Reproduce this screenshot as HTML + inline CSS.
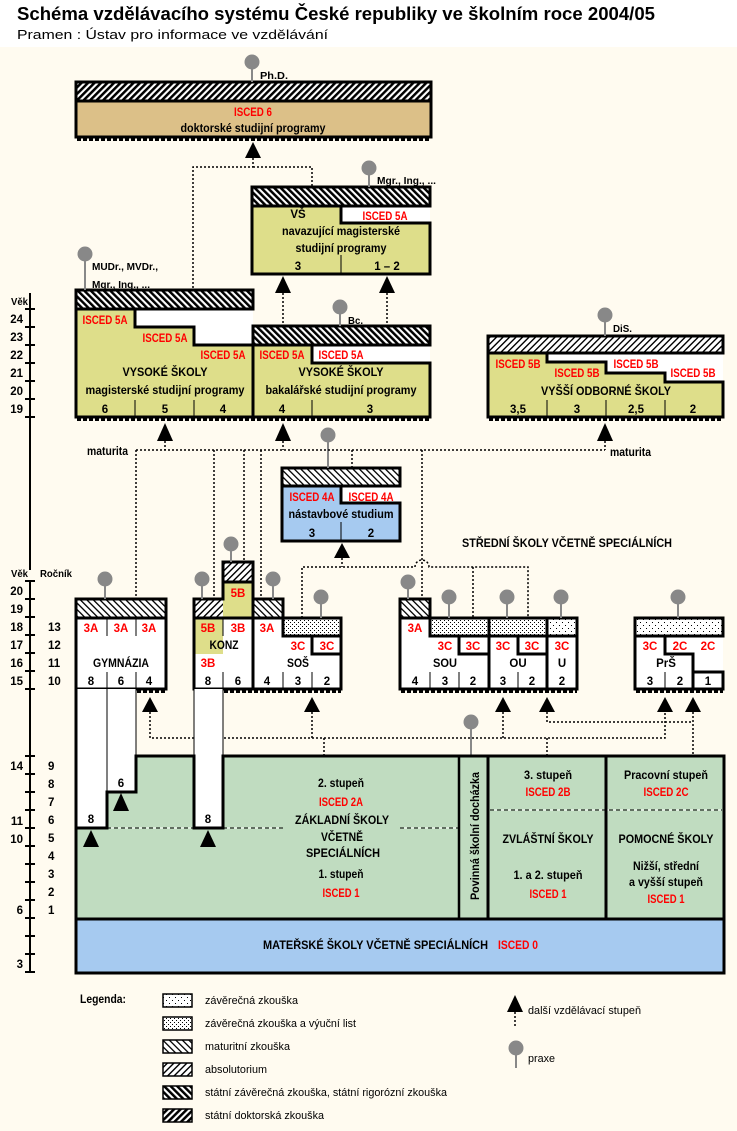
<!DOCTYPE html>
<html><head><meta charset="utf-8">
<style>
html,body{margin:0;padding:0;background:#fff;}
svg{display:block;}
.t{font-family:"Liberation Sans",Arial,sans-serif;font-weight:bold;font-size:11.5px;fill:#000;}
.s{font-family:"Liberation Sans",Arial,sans-serif;font-weight:bold;font-size:10.5px;fill:#000;}
.n{font-family:"Liberation Sans",Arial,sans-serif;font-weight:normal;font-size:11px;fill:#000;}
.m{text-anchor:middle;}
.e{text-anchor:end;}
.r{fill:#f00;}
.k{stroke:#000;stroke-width:3;fill:none;stroke-linecap:square;}
.th{stroke:#000;stroke-width:1;fill:none;}
.d{stroke:#000;stroke-width:1.5;fill:none;stroke-dasharray:2 2;}
.pin{fill:#888;}
.st{stroke:#888;stroke-width:2;}
.ru{stroke:#000;stroke-width:3;stroke-dasharray:4 2;fill:none;}
.wd{stroke:#fff;stroke-width:1;fill:none;}
.bd{stroke:#000;stroke-width:1;fill:none;stroke-dasharray:4 3;}
</style></head>
<body>
<svg width="737" height="1131" viewBox="0 0 737 1131" xmlns="http://www.w3.org/2000/svg">
<defs>
<pattern id="tkB" patternUnits="userSpaceOnUse" width="4.6" height="4.6" patternTransform="rotate(-45)"><rect width="4.6" height="4.6" fill="#fff"/><rect width="2.5" height="4.6" fill="#000"/></pattern>
<pattern id="tkF" patternUnits="userSpaceOnUse" width="4.6" height="4.6" patternTransform="rotate(45)"><rect width="4.6" height="4.6" fill="#fff"/><rect width="2.5" height="4.6" fill="#000"/></pattern>
<pattern id="tB" patternUnits="userSpaceOnUse" width="4.6" height="4.6" patternTransform="rotate(-45)"><rect width="4.6" height="4.6" fill="#fff"/><rect width="1.3" height="4.6" fill="#000"/></pattern>
<pattern id="tF" patternUnits="userSpaceOnUse" width="4.6" height="4.6" patternTransform="rotate(45)"><rect width="4.6" height="4.6" fill="#fff"/><rect width="1.4" height="4.6" fill="#000"/></pattern>
<pattern id="dot1" patternUnits="userSpaceOnUse" width="6" height="6"><rect width="6" height="6" fill="#fff"/><rect x="1" y="1" width="1" height="1" fill="#000"/><rect x="4" y="4" width="1" height="1" fill="#000"/></pattern>
<pattern id="dot2" patternUnits="userSpaceOnUse" width="4" height="4"><rect width="4" height="4" fill="#fff"/><rect x="0" y="0" width="1" height="1" fill="#000"/><rect x="2" y="2" width="1" height="1" fill="#000"/></pattern>
</defs>

<rect x="0" y="0" width="737" height="1131" fill="#fff"/>
<rect x="0" y="47" width="737" height="1084" fill="#FFFBF0"/>

<text x="17" y="20" style="font-family:'Liberation Sans',Arial,sans-serif;font-weight:bold;font-size:18px" textLength="638" lengthAdjust="spacingAndGlyphs">Schéma vzdělávacího systému České republiky ve školním roce 2004/05</text>
<text x="17" y="39" style="font-family:'Liberation Sans',Arial,sans-serif;font-size:13px" textLength="311" lengthAdjust="spacingAndGlyphs">Pramen : Ústav pro informace ve vzdělávání</text>

<!-- Doctoral -->
<rect x="76" y="82" width="355" height="19" fill="url(#tkF)"/>
<rect x="76" y="101" width="355" height="36" fill="#DCC088"/>
<rect class="k" x="76" y="82" width="355" height="55"/>
<path class="k" d="M76 101H431"/>
<path class="ru" d="M77 139.5H430"/>
<text class="t m r" x="253" y="116" textLength="38" lengthAdjust="spacingAndGlyphs">ISCED 6</text>
<text class="t m" x="253" y="132" textLength="145" lengthAdjust="spacingAndGlyphs">doktorské studijní programy</text>
<line class="st" x1="252" y1="66" x2="252" y2="82"/><circle class="pin" cx="252" cy="62" r="7.5"/>
<text class="s" x="260" y="79" textLength="28" lengthAdjust="spacingAndGlyphs">Ph.D.</text>

<!-- VS navazujici -->
<rect x="252" y="187" width="178" height="19" fill="url(#tkB)"/>
<rect x="252" y="206" width="178" height="68" fill="#fff"/>
<polygon points="252,206 341,206 341,223 430,223 430,274 252,274" fill="#DEDE8A"/>
<path class="k" d="M252 274V187H430V206M430 223V274H252M252 206H430M341 206V223H430"/>
<path class="th" d="M341 255V274"/>
<text class="t m" x="298" y="218">VŠ</text>
<text class="t m r" x="385" y="220" textLength="45" lengthAdjust="spacingAndGlyphs">ISCED 5A</text>
<text class="t m" x="341" y="235" textLength="118" lengthAdjust="spacingAndGlyphs">navazující magisterské</text>
<text class="t m" x="341" y="252" textLength="91" lengthAdjust="spacingAndGlyphs">studijní programy</text>
<text class="t m" x="298" y="270">3</text>
<text class="t m" x="387" y="270">1 – 2</text>
<line class="st" x1="369" y1="172" x2="369" y2="187"/><circle class="pin" cx="369" cy="168" r="7.5"/>
<text class="s" x="377" y="184" textLength="59" lengthAdjust="spacingAndGlyphs">Mgr., Ing., ...</text>

<!-- Magisterske + Bakalarske -->
<rect x="76" y="290" width="177" height="19" fill="url(#tkB)"/>
<rect x="76" y="309" width="177" height="108" fill="#fff"/>
<polygon points="76,309 135,309 135,327 194,327 194,345 253,345 253,417 76,417" fill="#DEDE8A"/>
<rect x="253" y="326" width="177" height="19" fill="url(#tkB)"/>
<rect x="253" y="345" width="177" height="72" fill="#fff"/>
<polygon points="253,345 312,345 312,363 430,363 430,417 253,417" fill="#DEDE8A"/>
<path class="k" d="M76 417V290H253V309M76 309H253M135 309V327H194V345H253M76 417H430M253 326H430V345M253 345H430M312 345V363H430V417M253 326V417"/>
<path class="th" d="M135 400V417M194 400V417M312 400V417"/>
<path class="ru" d="M77 419.5H430"/>
<text class="t m r" x="105" y="324" textLength="45" lengthAdjust="spacingAndGlyphs">ISCED 5A</text>
<text class="t m r" x="165" y="342" textLength="45" lengthAdjust="spacingAndGlyphs">ISCED 5A</text>
<text class="t m r" x="223" y="359" textLength="45" lengthAdjust="spacingAndGlyphs">ISCED 5A</text>
<text class="t m" x="165" y="376" textLength="85" lengthAdjust="spacingAndGlyphs">VYSOKÉ ŠKOLY</text>
<text class="t m" x="165" y="394" textLength="159" lengthAdjust="spacingAndGlyphs">magisterské studijní programy</text>
<text class="t m" x="105" y="413">6</text>
<text class="t m" x="165" y="413">5</text>
<text class="t m" x="223" y="413">4</text>
<text class="t m r" x="282" y="359" textLength="45" lengthAdjust="spacingAndGlyphs">ISCED 5A</text>
<text class="t m r" x="341" y="359" textLength="45" lengthAdjust="spacingAndGlyphs">ISCED 5A</text>
<text class="t m" x="341" y="376" textLength="85" lengthAdjust="spacingAndGlyphs">VYSOKÉ ŠKOLY</text>
<text class="t m" x="341" y="394" textLength="151" lengthAdjust="spacingAndGlyphs">bakalářské studijní programy</text>
<text class="t m" x="282" y="413">4</text>
<text class="t m" x="370" y="413">3</text>
<line class="st" x1="85" y1="258" x2="85" y2="290"/><circle class="pin" cx="85" cy="254" r="7.5"/>
<text class="s" x="92" y="270" textLength="66" lengthAdjust="spacingAndGlyphs">MUDr., MVDr.,</text>
<text class="s" x="92" y="288" textLength="58" lengthAdjust="spacingAndGlyphs">Mgr., Ing., ...</text>
<line class="st" x1="340" y1="311" x2="340" y2="326"/><circle class="pin" cx="340" cy="307" r="7.5"/>
<text class="s" x="348" y="324" textLength="15" lengthAdjust="spacingAndGlyphs">Bc.</text>

<!-- VOS -->
<rect x="488" y="336" width="235" height="17" fill="url(#tF)"/>
<rect x="488" y="353" width="235" height="64" fill="#fff"/>
<polygon points="488,353 547,353 547,362 606,362 606,373 665,373 665,382 723,382 723,417 488,417" fill="#DEDE8A"/>
<path class="k" d="M488 417V336H723V353M488 353H723M547 353V362H606V373H665V382H723V417H488"/>
<path class="th" d="M547 400V417M606 400V417M665 400V417"/>
<path class="ru" d="M489 419.5H723"/>
<text class="t m r" x="518" y="368" textLength="45" lengthAdjust="spacingAndGlyphs">ISCED 5B</text>
<text class="t m r" x="577" y="377" textLength="45" lengthAdjust="spacingAndGlyphs">ISCED 5B</text>
<text class="t m r" x="636" y="368" textLength="45" lengthAdjust="spacingAndGlyphs">ISCED 5B</text>
<text class="t m r" x="693" y="377" textLength="45" lengthAdjust="spacingAndGlyphs">ISCED 5B</text>
<text class="t m" x="606" y="395" textLength="130" lengthAdjust="spacingAndGlyphs">VYŠŠÍ ODBORNÉ ŠKOLY</text>
<text class="t m" x="518" y="413">3,5</text>
<text class="t m" x="577" y="413">3</text>
<text class="t m" x="636" y="413">2,5</text>
<text class="t m" x="693" y="413">2</text>
<line class="st" x1="605" y1="319" x2="605" y2="336"/><circle class="pin" cx="605" cy="315" r="7.5"/>
<text class="s" x="613" y="332" textLength="19" lengthAdjust="spacingAndGlyphs">DiS.</text>
<text class="t" x="610" y="456" textLength="41" lengthAdjust="spacingAndGlyphs">maturita</text>
<text class="t" x="87" y="455" textLength="41" lengthAdjust="spacingAndGlyphs">maturita</text>

<!-- Nastavbove -->
<rect x="282" y="468" width="118" height="18" fill="url(#tB)"/>
<rect x="282" y="486" width="118" height="55" fill="#fff"/>
<polygon points="282,486 341,486 341,503 400,503 400,541 282,541" fill="#A6CAF0"/>
<path class="k" d="M282 541V468H400V486M282 486H400M341 486V503H400V541H282"/>
<path class="th" d="M341 522V541"/>
<text class="t m r" x="312" y="501" textLength="45" lengthAdjust="spacingAndGlyphs">ISCED 4A</text>
<text class="t m r" x="371" y="501" textLength="45" lengthAdjust="spacingAndGlyphs">ISCED 4A</text>
<text class="t m" x="341" y="518" textLength="105" lengthAdjust="spacingAndGlyphs">nástavbové studium</text>
<text class="t m" x="312" y="537">3</text>
<text class="t m" x="371" y="537">2</text>
<line class="st" x1="328" y1="439" x2="328" y2="468"/><circle class="pin" cx="328" cy="435" r="7.5"/>

<text class="t" x="462" y="547" textLength="210" lengthAdjust="spacingAndGlyphs">STŘEDNÍ ŠKOLY VČETNĚ SPECIÁLNÍCH</text>

<!-- dotted connectors -->
<path class="d" d="M253 158V167H193V290M253 167H312V187"/>
<path class="d" d="M283 293V326M387 293V326"/>
<path class="d" d="M136 450H605M165 441V450M283 441V450M605 441V450"/>
<path class="d" d="M136 450V599M214 450V599M244 450V562M261 450V599M352 450V468M422 450V599"/>
<path class="d" d="M302 618V567H415A7 7 0 0 1 429 567H528V618M342 558V567M473 567V618"/>
<path class="d" d="M150 712V738H665V712M312 712V738M503 712V738M324 738V756M547 738V756M547 712V722H693M693 712V756"/>
<path class="d" d="M91 847V863M121 811V828M208 847V863"/>

<!-- Gymnazium -->
<rect x="76" y="599" width="90" height="19" fill="url(#tB)"/>
<rect x="76" y="618" width="90" height="71" fill="#fff"/>
<rect class="k" x="76" y="599" width="90" height="90"/>
<path class="k" d="M76 618H166"/>
<path class="th" d="M107 618V636M136 618V636M107 672V689M136 672V689"/>
<path class="ru" d="M137 691.5H166"/>
<text class="t m r" x="91" y="632">3A</text>
<text class="t m r" x="121" y="632">3A</text>
<text class="t m r" x="149" y="632">3A</text>
<text class="t m" x="121" y="667" textLength="56" lengthAdjust="spacingAndGlyphs">GYMNÁZIA</text>
<text class="t m" x="91" y="685">8</text>
<text class="t m" x="121" y="685">6</text>
<text class="t m" x="149" y="685">4</text>
<line class="st" x1="105" y1="583" x2="105" y2="599"/><circle class="pin" cx="105" cy="579" r="7.5"/>

<!-- Konz / SOS -->
<rect x="194" y="599" width="29" height="19" fill="url(#tF)"/>
<rect x="223" y="562" width="30" height="20" fill="url(#tF)"/>
<rect x="223" y="582" width="30" height="36" fill="#DEDE8A"/>
<rect x="253" y="599" width="30" height="19" fill="url(#tB)"/>
<rect x="194" y="618" width="147" height="71" fill="#fff"/>
<rect x="194" y="618" width="29" height="36" fill="#DEDE8A"/>
<rect x="283" y="618" width="58" height="18" fill="url(#dot2)"/>
<path class="k" d="M194 689V599H223V562H253V599H283V636M223 582H253M253 562V689M194 618H341M283 636H341M341 618V689M194 689H341M312 636V654H341"/>
<path class="th" d="M223 618V636M223 672V689M283 672V689M312 672V689"/>
<path class="ru" d="M224 691.5H341"/>
<text class="t m r" x="238" y="597">5B</text>
<text class="t m r" x="208" y="632">5B</text>
<text class="t m r" x="238" y="632">3B</text>
<text class="t m r" x="267" y="632">3A</text>
<text class="t m" x="224" y="649" textLength="29" lengthAdjust="spacingAndGlyphs">KONZ</text>
<text class="t m r" x="298" y="650">3C</text>
<text class="t m r" x="327" y="650">3C</text>
<text class="t m r" x="208" y="667">3B</text>
<text class="t m" x="298" y="667" textLength="22" lengthAdjust="spacingAndGlyphs">SOŠ</text>
<text class="t m" x="208" y="685">8</text>
<text class="t m" x="238" y="685">6</text>
<text class="t m" x="267" y="685">4</text>
<text class="t m" x="298" y="685">3</text>
<text class="t m" x="327" y="685">2</text>
<line class="st" x1="202" y1="583" x2="202" y2="599"/><circle class="pin" cx="202" cy="579" r="7.5"/>
<line class="st" x1="231" y1="548" x2="231" y2="562"/><circle class="pin" cx="231" cy="544" r="7.5"/>
<line class="st" x1="273" y1="583" x2="273" y2="599"/><circle class="pin" cx="273" cy="579" r="7.5"/>
<line class="st" x1="321" y1="601" x2="321" y2="618"/><circle class="pin" cx="321" cy="597" r="7.5"/>

<!-- SOU / OU / U -->
<rect x="400" y="599" width="30" height="19" fill="url(#tB)"/>
<rect x="400" y="618" width="177" height="71" fill="#fff"/>
<rect x="430" y="618" width="117" height="18" fill="url(#dot2)"/>
<rect x="547" y="618" width="30" height="18" fill="url(#dot1)"/>
<path class="k" d="M400 689V599H430V636M400 618H577M430 636H577M489 618V689M547 618V689M577 618V689M400 689H577M459 636V654H489M518 636V654H547"/>
<path class="th" d="M430 672V689M459 672V689M518 672V689"/>
<path class="ru" d="M401 691.5H577"/>
<text class="t m r" x="415" y="632">3A</text>
<text class="t m r" x="445" y="650">3C</text>
<text class="t m r" x="473" y="650">3C</text>
<text class="t m r" x="503" y="650">3C</text>
<text class="t m r" x="532" y="650">3C</text>
<text class="t m r" x="562" y="650">3C</text>
<text class="t m" x="445" y="667" textLength="24" lengthAdjust="spacingAndGlyphs">SOU</text>
<text class="t m" x="518" y="667">OU</text>
<text class="t m" x="562" y="667">U</text>
<text class="t m" x="415" y="685">4</text>
<text class="t m" x="445" y="685">3</text>
<text class="t m" x="473" y="685">2</text>
<text class="t m" x="503" y="685">3</text>
<text class="t m" x="532" y="685">2</text>
<text class="t m" x="562" y="685">2</text>
<line class="st" x1="408" y1="586" x2="408" y2="599"/><circle class="pin" cx="408" cy="582" r="7.5"/>
<line class="st" x1="449" y1="601" x2="449" y2="618"/><circle class="pin" cx="449" cy="597" r="7.5"/>
<line class="st" x1="507" y1="601" x2="507" y2="618"/><circle class="pin" cx="507" cy="597" r="7.5"/>
<line class="st" x1="561" y1="601" x2="561" y2="618"/><circle class="pin" cx="561" cy="597" r="7.5"/>

<!-- PrS -->
<rect x="635" y="618" width="88" height="18" fill="url(#dot1)"/>
<rect x="635" y="636" width="88" height="53" fill="#fff"/>
<path class="k" d="M635 689V618H723V636M635 636H723M665 636V654H693V672H723V689H635M693 672V689"/>
<path class="th" d="M665 672V689"/>
<path class="ru" d="M636 691.5H723"/>
<text class="t m r" x="650" y="650">3C</text>
<text class="t m r" x="680" y="650">2C</text>
<text class="t m r" x="708" y="650">2C</text>
<text class="t m" x="666" y="667">PrŠ</text>
<text class="t m" x="650" y="685">3</text>
<text class="t m" x="680" y="685">2</text>
<text class="t m" x="708" y="685">1</text>
<line class="st" x1="678" y1="601" x2="678" y2="618"/><circle class="pin" cx="678" cy="597" r="7.5"/>

<line class="st" x1="471" y1="726" x2="471" y2="756"/><circle class="pin" cx="471" cy="722" r="7.5"/>

<!-- Basic school -->
<rect x="76" y="689" width="31" height="139" fill="#fff"/>
<rect x="107" y="689" width="29" height="103" fill="#fff"/>
<rect x="194" y="689" width="29" height="139" fill="#fff"/>
<polygon points="136,756 194,756 194,828 223,828 223,756 723,756 723,919 76,919 76,828 107,828 107,792 136,792" fill="#C0DCC0"/>
<rect x="76" y="919" width="647" height="54" fill="#A6CAF0"/>
<path class="wd" d="M107 828H194M223 828H283M400 828H458M490 810H722"/>
<path class="bd" d="M107 828H194M223 828H283M400 828H458M490 810H722"/>
<path class="k" d="M76 689V973H724V756H223V828H194V756H136V792H107V828H76M76 919H724M488 756V919M606 756V919"/>
<path stroke="#000" stroke-width="2.5" fill="none" d="M459 756V919"/>
<path class="th" d="M107 689V792M136 689V756M194 689V756M223 689V756"/>
<text class="t m" x="91" y="823">8</text>
<text class="t m" x="121" y="787">6</text>
<text class="t m" x="208" y="823">8</text>

<text class="t m" x="341" y="787" textLength="46" lengthAdjust="spacingAndGlyphs">2. stupeň</text>
<text class="t m r" x="341" y="806" textLength="44" lengthAdjust="spacingAndGlyphs">ISCED 2A</text>
<text class="t m" x="342" y="824" textLength="94" lengthAdjust="spacingAndGlyphs">ZÁKLADNÍ ŠKOLY</text>
<text class="t m" x="342" y="841" textLength="42" lengthAdjust="spacingAndGlyphs">VČETNĚ</text>
<text class="t m" x="343" y="857" textLength="74" lengthAdjust="spacingAndGlyphs">SPECIÁLNÍCH</text>
<text class="t m" x="341" y="878" textLength="45" lengthAdjust="spacingAndGlyphs">1. stupeň</text>
<text class="t m r" x="341" y="897" textLength="37" lengthAdjust="spacingAndGlyphs">ISCED 1</text>

<text class="t m" transform="translate(479,836) rotate(-90)" textLength="128" lengthAdjust="spacingAndGlyphs">Povinná školní docházka</text>

<text class="t m" x="548" y="779" textLength="48" lengthAdjust="spacingAndGlyphs">3. stupeň</text>
<text class="t m r" x="548" y="796" textLength="45" lengthAdjust="spacingAndGlyphs">ISCED 2B</text>
<text class="t m" x="548" y="843" textLength="91" lengthAdjust="spacingAndGlyphs">ZVLÁŠTNÍ ŠKOLY</text>
<text class="t m" x="548" y="879" textLength="69" lengthAdjust="spacingAndGlyphs">1. a 2. stupeň</text>
<text class="t m r" x="548" y="898" textLength="37" lengthAdjust="spacingAndGlyphs">ISCED 1</text>

<text class="t m" x="666" y="779" textLength="84" lengthAdjust="spacingAndGlyphs">Pracovní stupeň</text>
<text class="t m r" x="666" y="796" textLength="45" lengthAdjust="spacingAndGlyphs">ISCED 2C</text>
<text class="t m" x="666" y="843" textLength="95" lengthAdjust="spacingAndGlyphs">POMOCNÉ ŠKOLY</text>
<text class="t m" x="666" y="870" textLength="66" lengthAdjust="spacingAndGlyphs">Nižší, střední</text>
<text class="t m" x="666" y="886" textLength="74" lengthAdjust="spacingAndGlyphs">a vyšší stupeň</text>
<text class="t m r" x="666" y="903" textLength="37" lengthAdjust="spacingAndGlyphs">ISCED 1</text>

<text class="t" x="263" y="949" textLength="225" lengthAdjust="spacingAndGlyphs">MATEŘSKÉ ŠKOLY VČETNĚ SPECIÁLNÍCH</text>
<text class="t r" x="498" y="949" textLength="40" lengthAdjust="spacingAndGlyphs">ISCED 0</text>

<!-- arrows -->
<g fill="#000">
<polygon points="253,142 245,158 261,158"/>
<polygon points="283,276 275,293 291,293"/>
<polygon points="387,276 379,293 395,293"/>
<polygon points="165,423 157,441 173,441"/>
<polygon points="283,423 275,441 291,441"/>
<polygon points="605,423 597,441 613,441"/>
<polygon points="342,543 334,558 350,558"/>
<polygon points="150,697 142,712 158,712"/>
<polygon points="312,697 304,712 320,712"/>
<polygon points="503,697 495,712 511,712"/>
<polygon points="547,697 539,712 555,712"/>
<polygon points="665,697 657,712 673,712"/>
<polygon points="693,697 685,712 701,712"/>
<polygon points="91,830 83,847 99,847"/>
<polygon points="121,793 113,811 129,811"/>
<polygon points="208,830 200,847 216,847"/>
</g>

<!-- axes -->
<path stroke="#000" stroke-width="2" fill="none" d="M30 293V570M30 581V973"/>
<path stroke="#000" stroke-width="2" fill="none" d="M25 309H35M25 327H35M25 345H35M25 363H35M25 381H35M25 399H35M25 417H35M25 581H35M25 599H35M25 617H35M25 635H35M25 653H35M25 671H35M25 689H35M25 756H35M25 774H35M25 792H35M25 810H35M25 828H35M25 846H35M25 864H35M25 882H35M25 900H35M25 918H35M25 936H35M25 954H35M25 972H35"/>
<text class="s" x="11" y="305" textLength="17" lengthAdjust="spacingAndGlyphs">Věk</text>
<text class="t e" x="23" y="323">24</text>
<text class="t e" x="23" y="341">23</text>
<text class="t e" x="23" y="359">22</text>
<text class="t e" x="23" y="377">21</text>
<text class="t e" x="23" y="395">20</text>
<text class="t e" x="23" y="413">19</text>
<text class="s" x="11" y="577" textLength="17" lengthAdjust="spacingAndGlyphs">Věk</text>
<text class="s" x="40" y="577" textLength="32" lengthAdjust="spacingAndGlyphs">Ročník</text>
<text class="t e" x="23" y="595">20</text>
<text class="t e" x="23" y="613">19</text>
<text class="t e" x="23" y="631">18</text>
<text class="t e" x="23" y="649">17</text>
<text class="t e" x="23" y="667">16</text>
<text class="t e" x="23" y="685">15</text>
<text class="t" x="48" y="631">13</text>
<text class="t" x="48" y="649">12</text>
<text class="t" x="48" y="667">11</text>
<text class="t" x="48" y="685">10</text>
<text class="t e" x="23" y="770">14</text>
<text class="t e" x="23" y="825">11</text>
<text class="t e" x="23" y="843">10</text>
<text class="t e" x="23" y="914">6</text>
<text class="t e" x="23" y="968">3</text>
<text class="t" x="48" y="770">9</text>
<text class="t" x="48" y="788">8</text>
<text class="t" x="48" y="806">7</text>
<text class="t" x="48" y="824">6</text>
<text class="t" x="48" y="842">5</text>
<text class="t" x="48" y="860">4</text>
<text class="t" x="48" y="878">3</text>
<text class="t" x="48" y="896">2</text>
<text class="t" x="48" y="914">1</text>

<!-- Legend -->
<text class="t" x="80" y="1003" textLength="46" lengthAdjust="spacingAndGlyphs">Legenda:</text>
<rect x="163" y="994" width="29" height="13" fill="url(#dot1)" stroke="#000" stroke-width="1.5"/>
<rect x="163" y="1017" width="29" height="13" fill="url(#dot2)" stroke="#000" stroke-width="1.5"/>
<rect x="163" y="1040" width="29" height="13" fill="url(#tB)" stroke="#000" stroke-width="1.5"/>
<rect x="163" y="1063" width="29" height="13" fill="url(#tF)" stroke="#000" stroke-width="1.5"/>
<rect x="163" y="1086" width="29" height="13" fill="url(#tkB)" stroke="#000" stroke-width="1.5"/>
<rect x="163" y="1109" width="29" height="13" fill="url(#tkF)" stroke="#000" stroke-width="1.5"/>
<text class="n" x="205" y="1004" textLength="93" lengthAdjust="spacingAndGlyphs">závěrečná zkouška</text>
<text class="n" x="205" y="1027" textLength="151" lengthAdjust="spacingAndGlyphs">závěrečná zkouška a výuční list</text>
<text class="n" x="205" y="1050" textLength="85" lengthAdjust="spacingAndGlyphs">maturitní zkouška</text>
<text class="n" x="205" y="1073" textLength="62" lengthAdjust="spacingAndGlyphs">absolutorium</text>
<text class="n" x="205" y="1096" textLength="242" lengthAdjust="spacingAndGlyphs">státní závěrečná zkouška, státní rigorózní zkouška</text>
<text class="n" x="205" y="1119" textLength="119" lengthAdjust="spacingAndGlyphs">státní doktorská zkouška</text>
<polygon points="515,995 507,1012 523,1012" fill="#000"/>
<path class="d" d="M515 1012V1028"/>
<text class="n" x="528" y="1014" textLength="113" lengthAdjust="spacingAndGlyphs">další vzdělávací stupeň</text>
<line class="st" x1="516" y1="1052" x2="516" y2="1068"/><circle class="pin" cx="516" cy="1048" r="7.5"/>
<text class="n" x="528" y="1062" textLength="27" lengthAdjust="spacingAndGlyphs">praxe</text>
</svg>
</body></html>
